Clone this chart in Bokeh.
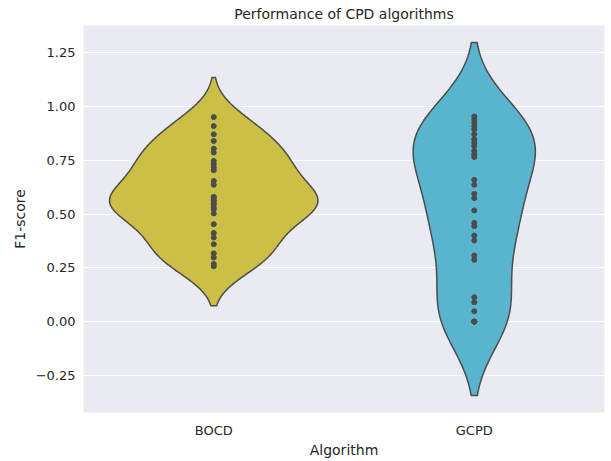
import numpy as np
from bokeh.plotting import figure
from bokeh.models import FixedTicker, CustomJSTickFormatter, Range1d
from bokeh.embed import file_html
from bokeh.resources import INLINE

# ---- data (overlapping dots in dense streaks estimated) ----
algorithms = ["BOCD", "GCPD"]
bocd_f1 = [0.951, 0.909, 0.871, 0.840, 0.804, 0.786, 0.747, 0.732, 0.716, 0.704,
           0.654, 0.636, 0.580, 0.577, 0.565, 0.561, 0.550, 0.543, 0.530, 0.523,
           0.503, 0.453, 0.412, 0.391, 0.360, 0.317, 0.298, 0.268, 0.257]
gcpd_f1 = [0.954, 0.940, 0.925, 0.909, 0.894, 0.871, 0.848, 0.832, 0.817, 0.794,
           0.778, 0.765, 0.659, 0.636, 0.594, 0.574, 0.517, 0.459, 0.444, 0.400,
           0.377, 0.307, 0.287, 0.113, 0.090, 0.048, 0.000, 0.000, 0.000, 0.000]
kde_bandwidth = [0.092, 0.172]
fill_colors = ["#CBBF45", "#59B5CE"]
y_ticks = [-0.25, 0.0, 0.25, 0.5, 0.75, 1.0, 1.25]
y_lo, y_hi = -0.423, 1.377

series = [bocd_f1, gcpd_f1]
EDGE = "#4C4C4C"
TEXT = "#262626"
FONT = "DejaVu Sans"

p = figure(width=611, height=461, output_backend="svg", toolbar_location=None,
           x_range=Range1d(-0.5, 1.5), y_range=Range1d(y_lo, y_hi),
           title="Performance of CPD algorithms",
           min_border_left=83, min_border_right=7, min_border_top=25, min_border_bottom=49)

p.background_fill_color = "#EAEAF2"
p.border_fill_color = "white"
p.outline_line_color = None

# KDE per violin (seaborn-style: cut = 2 bandwidths, area-normalised widths)
dens_list, grid_list = [], []
for vals, bw in zip(series, kde_bandwidth):
    v = np.asarray(vals)
    grid = np.linspace(v.min() - 2 * bw, v.max() + 2 * bw, 200)
    dens = np.exp(-0.5 * ((grid[:, None] - v[None, :]) / bw) ** 2).sum(axis=1)
    dens /= (len(v) * bw * np.sqrt(2 * np.pi))
    dens_list.append(dens)
    grid_list.append(grid)
gmax = max(d.max() for d in dens_list)

for i, (vals, dens, grid) in enumerate(zip(series, dens_list, grid_list)):
    hw = 0.4 * dens / gmax
    xs = np.concatenate([i - hw, (i + hw)[::-1]])
    ys = np.concatenate([grid, grid[::-1]])
    p.patch(xs, ys, fill_color=fill_colors[i], line_color=EDGE, line_width=1.5)
    p.scatter([i] * len(vals), vals, size=5, color=EDGE, line_color=EDGE)

# axes
p.xaxis.ticker = FixedTicker(ticks=[0, 1])
p.xaxis.major_label_overrides = {0: algorithms[0], 1: algorithms[1]}
p.yaxis.ticker = FixedTicker(ticks=y_ticks)
p.yaxis.formatter = CustomJSTickFormatter(code="return tick.toFixed(2).replace('-', '\\u2212');")

p.xaxis.axis_label = "Algorithm"
p.yaxis.axis_label = "F1-score"
for ax in (p.xaxis, p.yaxis):
    ax.axis_line_color = None
    ax.major_tick_line_color = None
    ax.minor_tick_line_color = None
    ax.major_tick_out = 0
    ax.major_label_text_font = FONT
    ax.major_label_text_font_size = "13px"
    ax.major_label_text_color = TEXT
    ax.axis_label_text_font = FONT
    ax.axis_label_text_font_size = "14px"
    ax.axis_label_text_font_style = "normal"
    ax.axis_label_text_color = TEXT
p.xaxis.major_label_standoff = 10
p.xaxis.axis_label_standoff = 1
p.yaxis.major_label_standoff = 8
p.yaxis.axis_label_standoff = 5

p.xgrid.grid_line_color = None
p.ygrid.grid_line_color = "white"
p.ygrid.grid_line_width = 1.2

p.title.text_font = FONT
p.title.text_font_size = "14px"
p.title.text_font_style = "normal"
p.title.text_color = TEXT
p.title.align = "center"
p.title.standoff = 7

open("out.html", "w").write(file_html(p, INLINE))
